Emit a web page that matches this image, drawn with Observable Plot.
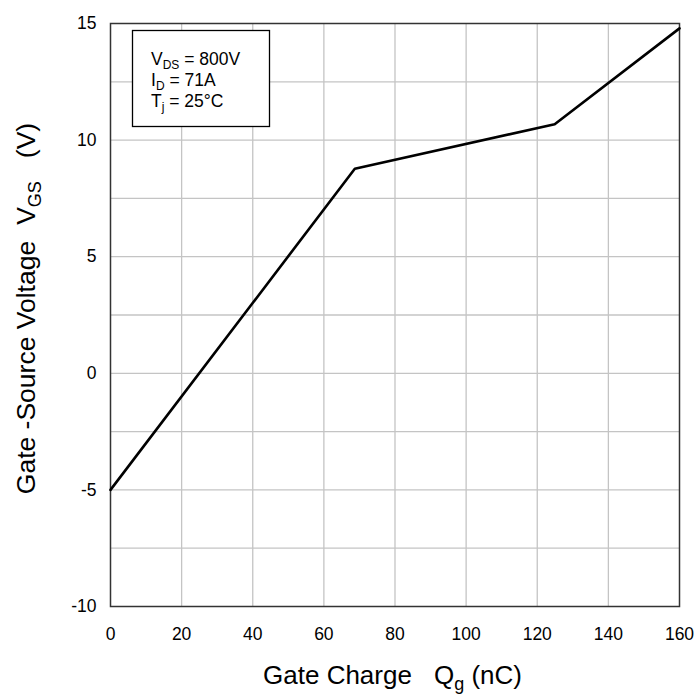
<!DOCTYPE html>
<html><head><meta charset="utf-8">
<script src="https://cdn.jsdelivr.net/npm/d3@7"></script>
<script src="https://cdn.jsdelivr.net/npm/@observablehq/plot@0.6"></script>
<style>
body{margin:0;background:#fff}
svg{display:block}
#chart svg [aria-label="x-axis tick label"], #chart svg [aria-label="y-axis tick label"]{font-size:17.5px;fill:#000}
</style>
</head><body><div id="chart"></div>
<script>
// Gate charge (nC) vs gate-source voltage (V)
const charge = [0, 68.7, 124.9, 160];
const vgs = [-5, 8.77, 10.68, 14.79];
const xTicks = [0, 20, 40, 60, 80, 100, 120, 140, 160];
const yTicks = [-10, -5, 0, 5, 10, 15];
const xGrid = [20, 40, 60, 80, 100, 120, 140];
const yGrid = [-7.5, -5, -2.5, 0, 2.5, 5, 7.5, 10, 12.5];
const condMain = ["V", "I", "T"];
const condSub = ["DS", "D", "j"];
const condRest = [" = 800V", " = 71A", " = 25\u00B0C"];
const xTitle = ["Gate Charge", "Q", "g", " (nC)"];
const yTitle = ["Gate -Source Voltage", "V", "GS", "(V)"];

const data = charge.map((q, i) => ({q, v: vgs[i]}));
const font = "'Liberation Sans', Arial, Helvetica, sans-serif";

const chart = Plot.plot({
  width: 697, height: 695,
  marginLeft: 110, marginRight: 18, marginTop: 23, marginBottom: 89,
  style: {fontFamily: font, fontSize: "17.5px", color: "#000", background: "#fff"},
  x: {domain: [0, 160]},
  y: {domain: [-10, 15]},
  marks: [
    Plot.ruleX(xGrid, {stroke: "#c4c4c4", strokeWidth: 1.3}),
    Plot.ruleY(yGrid, {stroke: "#c4c4c4", strokeWidth: 1.3}),
    Plot.axisX({ticks: xTicks, tickSize: 0, tickPadding: 21, label: null, fontSize: 17.5, fill: "#000", tickFormat: d => String(d)}),
    Plot.axisY({ticks: yTicks, tickSize: 0, tickPadding: 14, label: null, fontSize: 17.5, fill: "#000", tickFormat: d => String(d)}),
    Plot.frame({stroke: "#333", strokeWidth: 1.5}),
    Plot.line(data, {x: "q", y: "v", stroke: "#000", strokeWidth: 2.6})
  ]
});
document.getElementById("chart").appendChild(chart);

const svg = d3.select(chart);
const sx = chart.scale("x"), sy = chart.scale("y");
const frameLeft = sx.range[0], frameTop = sy.range[1];

// conditions box
const g = svg.append("g").attr("font-family", font).attr("fill", "#000").attr("text-anchor", "start");
g.append("rect")
  .attr("x", frameLeft + 22.5).attr("y", frameTop + 7.5)
  .attr("width", 137).attr("height", 96)
  .attr("fill", "#fff").attr("stroke", "#000").attr("stroke-width", 1.3);
condMain.forEach((m, i) => {
  const t = g.append("text").attr("x", frameLeft + 41).attr("y", frameTop + 42 + i * 21)
    .attr("font-size", 17.5).attr("text-anchor", "start");
  t.append("tspan").text(m);
  t.append("tspan").attr("font-size", 12).attr("dy", 3.5).text(condSub[i]);
  t.append("tspan").attr("dy", -3.5).text(condRest[i]);
});

// x title
const xt = svg.append("text").attr("font-family", font).attr("font-size", 26).attr("fill", "#000")
  .attr("text-anchor", "middle").attr("x", (sx.range[0] + sx.range[1]) / 2 - 2).attr("y", 684);
xt.append("tspan").text(xTitle[0]);
xt.append("tspan").attr("dx", 22).text(xTitle[1]);
xt.append("tspan").attr("font-size", 18).attr("dy", 6).text(xTitle[2]);
xt.append("tspan").attr("dy", -6).text(xTitle[3]);

// y title
const ymid = (sy.range[0] + sy.range[1]) / 2;
const yt = svg.append("text").attr("font-family", font).attr("font-size", 26.5).attr("fill", "#000")
  .attr("text-anchor", "middle").attr("transform", `translate(35,${ymid - 6}) rotate(-90)`);
yt.append("tspan").text(yTitle[0]);
yt.append("tspan").attr("dx", 16).text(yTitle[1]);
yt.append("tspan").attr("font-size", 18).attr("dy", 6).text(yTitle[2]);
yt.append("tspan").attr("dy", -6).attr("dx", 23).text(yTitle[3]);
</script>
</body></html>
